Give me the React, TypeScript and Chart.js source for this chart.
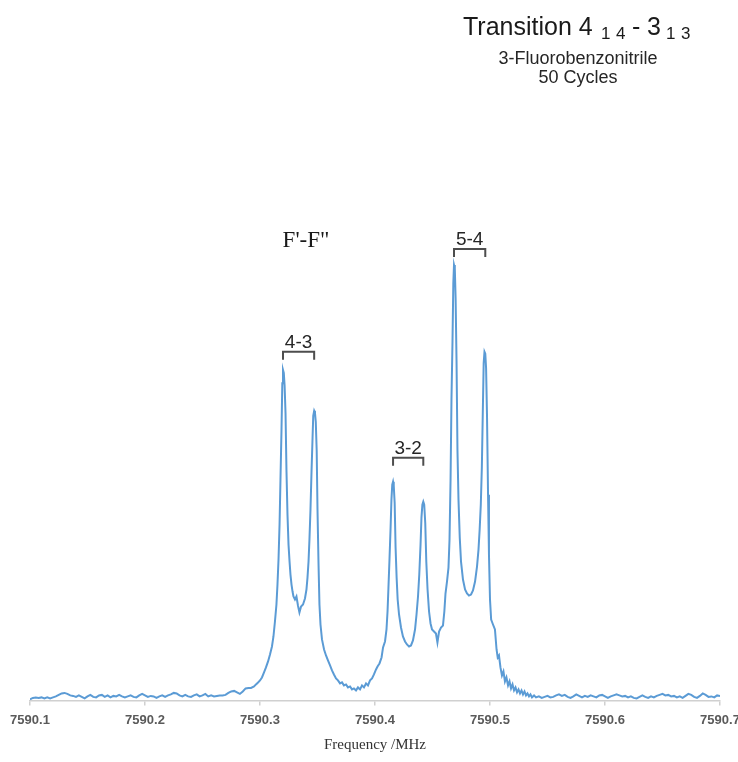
import React, { useEffect, useRef } from "react";
import { Chart, registerables } from "chart.js";

Chart.register(...registerables);

// x-axis tick labels (MHz)
const tickValues = [7590.1, 7590.2, 7590.3, 7590.4, 7590.5, 7590.6, 7590.7];

// Left baseline (MHz / intensity, arb. units)
const leftFreqs = [
  7590.1000, 7590.1025, 7590.1050, 7590.1075, 7590.1100, 7590.1125, 7590.1150, 7590.1175, 7590.1200, 7590.1225,
  7590.1250, 7590.1275, 7590.1300, 7590.1325, 7590.1350, 7590.1375, 7590.1400, 7590.1425, 7590.1450, 7590.1475,
  7590.1500, 7590.1525, 7590.1550, 7590.1575, 7590.1600, 7590.1625, 7590.1650, 7590.1675, 7590.1700, 7590.1725,
  7590.1750, 7590.1775, 7590.1800, 7590.1825, 7590.1850, 7590.1875, 7590.1900, 7590.1925, 7590.1950, 7590.1975,
  7590.2000, 7590.2025, 7590.2050, 7590.2075, 7590.2100, 7590.2125, 7590.2150, 7590.2175, 7590.2200, 7590.2225,
  7590.2250, 7590.2275, 7590.2300, 7590.2325, 7590.2350, 7590.2375, 7590.2400, 7590.2425, 7590.2450, 7590.2475,
  7590.2500, 7590.2525, 7590.2550, 7590.2575, 7590.2600, 7590.2625, 7590.2650, 7590.2675, 7590.2700, 7590.2725,
  7590.2750, 7590.2775, 7590.2800, 7590.2825, 7590.2850, 7590.2875, 7590.2900,
];
const leftIntens = [
  0.2, 0.5, 0.6, 0.5, 0.6, 0.4, 0.6, 0.4, 0.6, 0.8,
  1.1, 1.4, 1.5, 1.3, 1.0, 0.9, 0.7, 1.0, 0.7, 0.4,
  0.8, 1.1, 0.7, 0.6, 1.0, 1.1, 0.7, 1.0, 0.6, 0.9,
  0.8, 1.1, 0.8, 0.6, 0.8, 1.0, 0.7, 0.6, 1.0, 1.3,
  1.0, 0.7, 0.9, 0.8, 0.5, 0.8, 1.0, 0.7, 1.0, 1.2,
  1.5, 1.4, 1.0, 0.8, 1.1, 0.8, 0.7, 1.0, 1.2, 0.8,
  1.0, 1.3, 0.8, 1.0, 0.8, 0.9, 1.0, 1.0, 1.1, 1.5,
  1.8, 1.9, 1.6, 1.3, 1.8, 2.4, 2.5,
];

// Peak region
const peakFreqs = [
  7590.2922, 7590.2948, 7590.2965, 7590.2983, 7590.3000, 7590.3017, 7590.3035, 7590.3052, 7590.3070, 7590.3087,
  7590.3104, 7590.3117, 7590.3130, 7590.3143, 7590.3152, 7590.3161, 7590.3170, 7590.3178, 7590.3187, 7590.3194,
  7590.3200, 7590.3207, 7590.3214, 7590.3222, 7590.3230, 7590.3239, 7590.3248, 7590.3257, 7590.3265, 7590.3274,
  7590.3283, 7590.3291, 7590.3304, 7590.3317, 7590.3330, 7590.3343, 7590.3357, 7590.3374, 7590.3391, 7590.3404,
  7590.3413, 7590.3422, 7590.3430, 7590.3439, 7590.3448, 7590.3457, 7590.3463, 7590.3471, 7590.3478, 7590.3485,
  7590.3493, 7590.3500, 7590.3509, 7590.3517, 7590.3526, 7590.3539, 7590.3557, 7590.3574, 7590.3591, 7590.3609,
  7590.3626, 7590.3643, 7590.3661, 7590.3678, 7590.3696, 7590.3713, 7590.3730, 7590.3748, 7590.3765, 7590.3783,
  7590.3800, 7590.3817, 7590.3835, 7590.3852, 7590.3870, 7590.3887, 7590.3904, 7590.3922, 7590.3939, 7590.3957,
  7590.3974, 7590.3991, 7590.4009, 7590.4022, 7590.4039, 7590.4057, 7590.4070, 7590.4087, 7590.4100, 7590.4109,
  7590.4117, 7590.4126, 7590.4135, 7590.4143, 7590.4150, 7590.4157, 7590.4163, 7590.4171, 7590.4179, 7590.4188,
  7590.4197, 7590.4209, 7590.4226, 7590.4243, 7590.4261, 7590.4278, 7590.4296, 7590.4313, 7590.4330, 7590.4348,
  7590.4361, 7590.4374, 7590.4385, 7590.4396, 7590.4404, 7590.4412, 7590.4420, 7590.4428, 7590.4437, 7590.4446,
  7590.4457, 7590.4470, 7590.4483, 7590.4496, 7590.4513, 7590.4530, 7590.4543, 7590.4557, 7590.4574, 7590.4591,
  7590.4603, 7590.4613, 7590.4626, 7590.4639, 7590.4648, 7590.4657, 7590.4665, 7590.4674, 7590.4681, 7590.4687,
  7590.4694, 7590.4701, 7590.4709, 7590.4717, 7590.4726, 7590.4737, 7590.4748, 7590.4765, 7590.4783, 7590.4800,
  7590.4817, 7590.4835, 7590.4852, 7590.4870, 7590.4887, 7590.4900, 7590.4910, 7590.4920, 7590.4929, 7590.4937,
  7590.4945, 7590.4952, 7590.4959, 7590.4966, 7590.4974, 7590.4983, 7590.4991, 7590.5000, 7590.5010, 7590.5026,
  7590.5043, 7590.5057, 7590.5067, 7590.5078, 7590.5091, 7590.5104, 7590.5117, 7590.5130, 7590.5143, 7590.5157,
  7590.5170, 7590.5183, 7590.5196, 7590.5209, 7590.5222, 7590.5235, 7590.5248, 7590.5261, 7590.5274, 7590.5287,
  7590.5300, 7590.5313, 7590.5326, 7590.5339, 7590.5352, 7590.5365, 7590.5383, 7590.5400,
];
const peakIntens = [
  2.5, 2.8, 3.2, 3.6, 4.0, 4.6, 5.6, 6.6, 7.8, 9.2,
  10.8, 12.8, 15.8, 19.2, 23.2, 28.2, 35.2, 44.2, 54.2, 63.5,
  66.2, 65.6, 63.0, 57.5, 46.2, 37.2, 31.2, 27.8, 25.2, 23.2,
  21.8, 20.8, 20.2, 20.8, 19.0, 17.6, 18.8, 19.2, 20.4, 22.2,
  24.6, 27.8, 32.2, 38.2, 45.8, 52.6, 57.0, 58.0, 57.6, 55.8,
  50.0, 38.2, 27.2, 19.2, 15.2, 12.2, 10.2, 9.0, 8.0, 7.0,
  6.0, 5.2, 4.4, 4.0, 3.4, 3.6, 3.0, 3.2, 2.6, 2.8,
  2.2, 2.4, 2.0, 2.6, 2.2, 3.0, 2.6, 3.4, 3.0, 4.0,
  4.4, 5.2, 6.2, 6.8, 7.4, 8.6, 10.6, 11.8, 14.2, 17.8,
  22.6, 28.2, 34.2, 40.2, 43.2, 43.8, 43.0, 39.5, 30.6, 24.6,
  20.2, 17.2, 14.6, 12.8, 11.8, 11.2, 10.8, 11.0, 12.0, 14.2,
  17.2, 20.8, 25.2, 31.2, 36.6, 39.2, 39.8, 39.2, 35.5, 27.8,
  22.2, 17.8, 15.4, 14.2, 13.8, 13.4, 11.6, 13.8, 14.6, 15.0,
  17.8, 21.4, 23.8, 26.6, 32.2, 44.2, 60.2, 72.0, 83.5, 87.2,
  86.5, 80.5, 68.0, 50.2, 40.2, 32.6, 27.8, 24.2, 22.2, 21.4,
  21.0, 21.2, 22.0, 23.8, 26.8, 30.2, 34.2, 39.2, 46.6, 57.2,
  67.5, 69.8, 69.4, 66.5, 57.0, 41.2, 29.2, 20.2, 16.2, 15.2,
  14.2, 10.2, 8.6, 9.0, 6.6, 5.0, 5.8, 3.8, 4.6, 3.0,
  3.8, 2.4, 3.2, 2.0, 2.6, 1.6, 2.2, 1.4, 2.0, 1.2,
  1.8, 1.0, 1.4, 0.8, 1.2, 0.6, 1.0, 0.6,
];

// Right baseline
const rightFreqs = [
  7590.5425, 7590.5450, 7590.5475, 7590.5500, 7590.5525, 7590.5550, 7590.5575, 7590.5600, 7590.5625, 7590.5650,
  7590.5675, 7590.5700, 7590.5725, 7590.5750, 7590.5775, 7590.5800, 7590.5825, 7590.5850, 7590.5875, 7590.5900,
  7590.5925, 7590.5950, 7590.5975, 7590.6000, 7590.6025, 7590.6050, 7590.6075, 7590.6100, 7590.6125, 7590.6150,
  7590.6175, 7590.6200, 7590.6225, 7590.6250, 7590.6275, 7590.6300, 7590.6325, 7590.6350, 7590.6375, 7590.6400,
  7590.6425, 7590.6450, 7590.6475, 7590.6500, 7590.6525, 7590.6550, 7590.6575, 7590.6600, 7590.6625, 7590.6650,
  7590.6675, 7590.6700, 7590.6725, 7590.6750, 7590.6775, 7590.6800, 7590.6825, 7590.6850, 7590.6875, 7590.6900,
  7590.6925, 7590.6950, 7590.6975, 7590.7000,
];
const rightIntens = [
  0.8, 0.5, 0.7, 0.9, 0.6, 0.7, 1.0, 1.2, 0.9, 1.1,
  0.7, 0.5, 0.8, 1.2, 0.9, 0.6, 0.9, 0.7, 1.0, 0.8,
  0.6, 1.0, 1.1, 0.8, 0.5, 0.8, 1.0, 1.2, 1.0, 0.8,
  0.9, 0.6, 0.8, 0.5, 0.4, 0.7, 1.0, 0.7, 0.5, 0.8,
  0.6, 0.9, 1.1, 1.3, 1.0, 1.1, 0.8, 0.9, 0.6, 0.8,
  0.5, 0.9, 1.3, 1.1, 0.7, 0.5, 0.9, 1.4, 1.1, 0.7,
  0.8, 0.6, 1.0, 0.9,
];

// Hyperfine component labels (F'-F")
const bracketLabels = ["4-3", "3-2", "5-4"];
const bracketStart = [7590.3200, 7590.4157, 7590.4687];
const bracketEnd = [7590.3471, 7590.4420, 7590.4959];
const bracketLevel = [69.8, 48.6, 90.4];

const groupLabel = "F'-F\"";
const groupLabelFreq = 7590.3400;
const groupLabelLevel = 90.8;

const xTitle = "Frequency /MHz";

export default function App() {
  const ref = useRef<HTMLCanvasElement>(null);

  useEffect(() => {
    document.body.style.margin = "0";
    const canvas = ref.current;
    if (!canvas) return;

    const freqs = [...leftFreqs, ...peakFreqs, ...rightFreqs];
    const intens = [...leftIntens, ...peakIntens, ...rightIntens];
    const data = freqs.map((f, i) => ({ x: f, y: intens[i] }));

    const annot = {
      id: "annot",
      afterDraw(chart: any) {
        const ctx = chart.ctx as CanvasRenderingContext2D;
        const xs = chart.scales.x;
        const ys = chart.scales.y;
        ctx.save();

        // Title block
        ctx.fillStyle = "#1a1a1a";
        ctx.textBaseline = "alphabetic";
        ctx.textAlign = "left";
        ctx.font = "25px 'Liberation Sans', Arial, sans-serif";
        ctx.fillText("Transition 4", 463, 35);
        ctx.font = "17px 'Liberation Sans', Arial, sans-serif";
        ctx.fillText("1", 601, 39);
        ctx.fillText("4", 616, 39);
        ctx.font = "25px 'Liberation Sans', Arial, sans-serif";
        ctx.fillText("-", 632, 35);
        ctx.fillText("3", 647, 35);
        ctx.font = "17px 'Liberation Sans', Arial, sans-serif";
        ctx.fillText("1", 666, 39);
        ctx.fillText("3", 681, 39);

        ctx.fillStyle = "#262626";
        ctx.textAlign = "center";
        ctx.font = "18px 'Liberation Sans', Arial, sans-serif";
        ctx.fillText("3-Fluorobenzonitrile", 578, 64);
        ctx.fillText("50 Cycles", 578, 83);

        // F'-F" label
        ctx.fillStyle = "#1a1a1a";
        ctx.font = "23px 'Liberation Serif', 'Times New Roman', serif";
        ctx.fillText(groupLabel, xs.getPixelForValue(groupLabelFreq), ys.getPixelForValue(groupLabelLevel));

        // Brackets
        ctx.strokeStyle = "#4d4d4d";
        ctx.lineWidth = 2;
        ctx.font = "19px 'Liberation Sans', Arial, sans-serif";
        ctx.fillStyle = "#262626";
        bracketLabels.forEach((lab, i) => {
          const x0 = xs.getPixelForValue(bracketStart[i]);
          const x1 = xs.getPixelForValue(bracketEnd[i]);
          const y = ys.getPixelForValue(bracketLevel[i]);
          ctx.beginPath();
          ctx.moveTo(x0, y + 8);
          ctx.lineTo(x0, y);
          ctx.lineTo(x1, y);
          ctx.lineTo(x1, y + 8);
          ctx.stroke();
          ctx.fillText(lab, (x0 + x1) / 2, y - 4);
        });
        ctx.restore();
      },
    };

    const chart = new Chart(canvas, {
      type: "line",
      data: {
        datasets: [
          {
            data,
            borderColor: "#5b9bd5",
            borderWidth: 2,
            pointRadius: 0,
            tension: 0,
            fill: false,
          },
        ],
      },
      options: {
        animation: false,
        responsive: false,
        maintainAspectRatio: false,
        layout: { padding: { left: 30, right: 18, top: 201, bottom: 4 } },
        plugins: { legend: { display: false }, tooltip: { enabled: false } },
        scales: {
          x: {
            type: "linear",
            min: tickValues[0],
            max: tickValues[tickValues.length - 1],
            afterBuildTicks: (s: any) => {
              s.ticks = tickValues.map((v) => ({ value: v }));
            },
            afterFit: (s: any) => {
              s.paddingLeft = 0;
              s.paddingRight = 0;
            },
            ticks: {
              callback: (v: any) => Number(v).toFixed(1),
              font: { family: "'Liberation Sans', Arial, sans-serif", size: 13, weight: "bold" },
              color: "#5a5a5a",
              padding: 7,
              maxRotation: 0,
              autoSkip: false,
            },
            grid: {
              drawOnChartArea: false,
              drawTicks: true,
              tickLength: 5,
              color: "#d0d0d0",
              lineWidth: 1.5,
            },
            border: { display: true, color: "#d0d0d0", width: 1.5 },
            title: {
              display: true,
              text: xTitle,
              font: { family: "'Liberation Serif', 'Times New Roman', serif", size: 15 },
              color: "#333333",
              padding: { top: 1, bottom: 4 },
            },
          },
          y: { display: false, min: 0, max: 100 },
        },
      },
      plugins: [annot],
    } as any);

    return () => chart.destroy();
  }, []);

  return (
    <div style={{ width: 738, height: 762 }}>
      <canvas ref={ref} width={738} height={762} style={{ display: "block" }} />
    </div>
  );
}
